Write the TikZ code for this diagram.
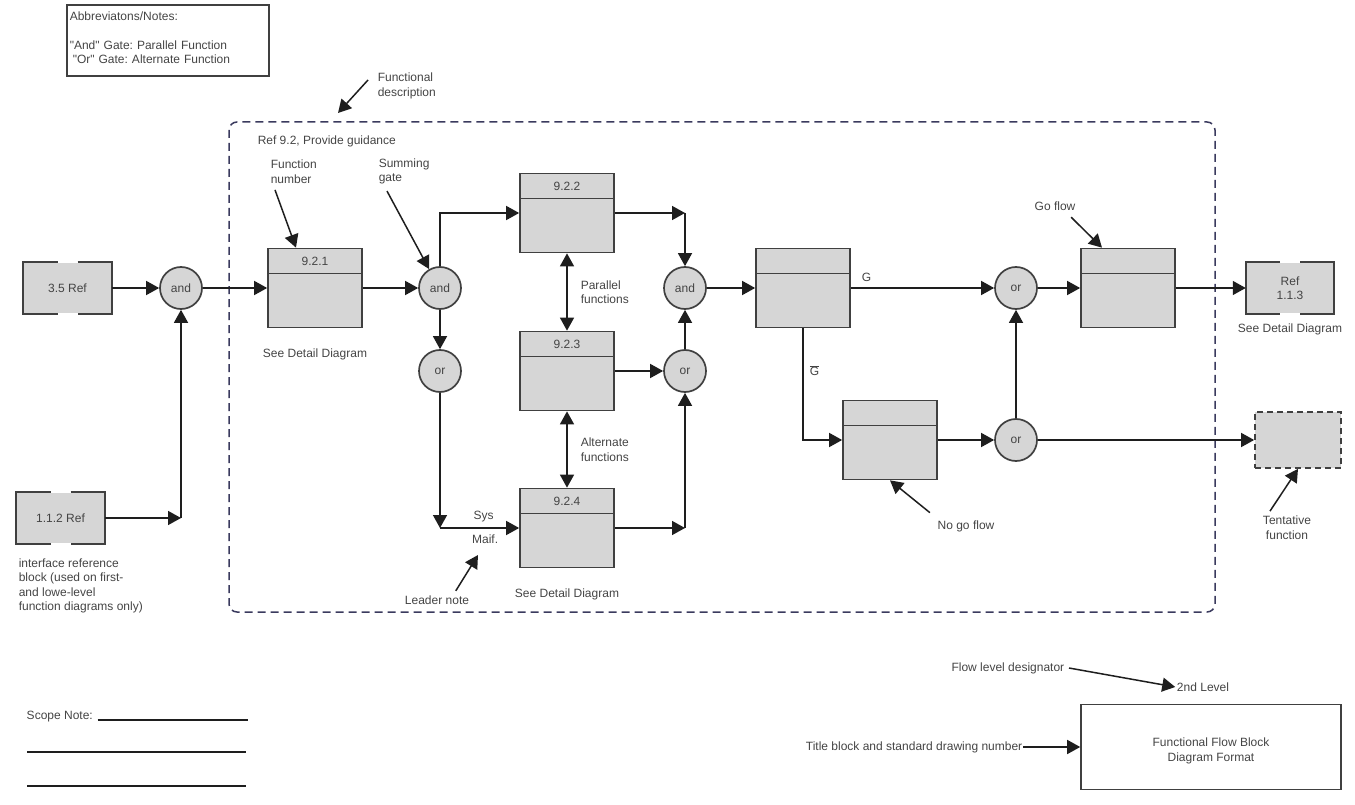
\documentclass[tikz,border=0pt]{standalone}
\usepackage{fontspec}
\setmainfont{Liberation Sans}
\usepackage{tikz}
\usetikzlibrary{arrows.meta, positioning}
\definecolor{boxgray}{HTML}{D6D6D6}
\definecolor{linegray}{HTML}{1E1E1E}
\definecolor{edgegray}{HTML}{404040}
\definecolor{textgray}{HTML}{444444}
\definecolor{framenavy}{HTML}{3A3A5E}
\frenchspacing

\begin{document}
\begin{tikzpicture}[x=1pt, y=1pt, font=\fontsize{12}{14.5}\selectfont, >={Triangle[length=13pt,width=14pt]},
    color=linegray, text=textgray, line width=1.5pt,
    func/.style={draw=edgegray, fill=boxgray, line width=1.7pt, minimum width=94pt, minimum height=79pt, inner sep=0pt,
        path picture={\draw[edgegray, line width=1.7pt] ([yshift=-25pt]path picture bounding box.north west) -- ([yshift=-25pt]path picture bounding box.north east);}},
    num/.style={anchor=center, yshift=-13.5pt},
    gate/.style={circle, draw=edgegray, fill=boxgray, line width=1.7pt, minimum size=42pt, inner sep=0pt},
    ref/.style={fill=boxgray, minimum width=87pt, minimum height=50pt, inner sep=0pt, align=center},
    note/.style={align=left, inner sep=1pt}]
    \useasboundingbox (0,0) rectangle (1355,-805);

    % notes and frame
    \node[draw=edgegray, line width=1.6pt, anchor=north west, minimum width=202pt, text width=196pt, align=left, inner xsep=2pt, inner ysep=0pt] (notes) at (66,-4)
        {\rule{0pt}{16pt}Abbreviatons/Notes:\\[14pt]\textquotedbl And\textquotedbl{} Gate: Parallel Function\\\hspace{3pt}\textquotedbl Or\textquotedbl{} Gate: Alternate Function\rule[-12pt]{0pt}{12pt}};
    \draw[framenavy, dash pattern=on 8pt off 5pt, rounded corners=8pt, line width=1.5pt] (229,-122) rectangle (1215,-612);
    \node[note, anchor=west] (fdesc) at (376,-86) {Functional\\description};
    \node[note, anchor=west] (guide) at (256,-141) {Ref 9.2, Provide guidance};
    \node[note, anchor=west] (fnum) at (269,-171.5) {Function\\number};
    \node[note, anchor=west] (sgate) at (377,-171.5) {Summing\\gate};

    % reference blocks
    \node[ref] (r35) at (67.5,-288) {3.5 Ref};
    \node[ref] (r112) at (60.5,-518) {1.1.2 Ref};
    \node[ref] (r113) at (1290,-288) {Ref\\1.1.3};
    \foreach \r in {r35,r112,r113} {
        \draw[edgegray, line width=1.7pt] ([xshift=-10pt]\r.north) -- (\r.north west) -- (\r.south west) -- ([xshift=-10pt]\r.south);
        \draw[edgegray, line width=1.7pt] ([xshift=10pt]\r.north) -- (\r.north east) -- (\r.south east) -- ([xshift=10pt]\r.south);
    }
    \node[ref, draw=edgegray, line width=1.7pt, dash pattern=on 6pt off 4pt, minimum width=86pt, minimum height=56pt] (tent) at (1298,-440) {};

    % function blocks
    \node[func, label={[num]north:9.2.1}] (f921) at (315,-288) {};
    \node[func, label={[num]north:9.2.2}] (f922) at (567,-213) {};
    \node[func, label={[num]north:9.2.3}] (f923) at (567,-371) {};
    \node[func, label={[num]north:9.2.4}] (f924) at (567,-528) {};
    \node[func] (fA) at (803,-288) {};
    \node[func] (fB) at (890,-440) {};
    \node[func] (fC) at (1128,-288) {};

    % gates
    \node[gate] (g1) at (181,-288) {and};
    \node[gate] (g2) at (440,-288) {and};
    \node[gate] (g3) at (440,-371) {or};
    \node[gate] (g4) at (685,-288) {and};
    \node[gate] (g5) at (685,-371) {or};
    \node[gate] (g6) at (1016,-288) {or};
    \node[gate] (g7) at (1016,-440) {or};

    \coordinate (j1) at (181,-518);
    \coordinate (c1) at (440,-528);
    \coordinate (c2) at (685,-213);
    \coordinate (c3) at (685,-528);

    % flow
    \draw[->] (r35) -- (g1);
    \draw[->] (r112) -- (j1);
    \draw[->] (j1) -- (g1);
    \draw[->] (g1) -- (f921);
    \draw[->] (f921) -- (g2);
    \draw[->] (g2) |- (f922);
    \draw[->] (g2) -- (g3);
    \draw[->] (g3) -- (c1);
    \draw[->] (c1) -- node[note, above=4pt, pos=0.55] (sys) {Sys} node[note, below=5pt, pos=0.57] (maif) {Maif.} (c1 -| f924.west);
    \draw[<->] (f922) -- node[note, right=12pt] (parf) {Parallel\\functions} (f923);
    \draw[<->] (f923) -- node[note, right=12pt] (altf) {Alternate\\functions} (f924);
    \draw[->] (f922) -- (c2);
    \draw[->] (c2) -- (g4);
    \draw[->] (f923) -- (g5);
    \draw[->] (f924) -- (c3);
    \draw[->] (c3) -- (g5);
    \draw[->] (g5) -- (g4);
    \draw[->] (g4) -- (fA);
    \draw[->] (fA) -- node[note, above=5pt, pos=0.11] (go) {G} (g6);
    \draw[->] (fA) |- node[note, right=5pt, pos=0.19] (nogoG) {$\overline{\mbox{G}}$} (fB);
    \draw[->] (fB) -- (g7);
    \draw[->] (g7) -- (g6);
    \draw[->] (g6) -- (fC);
    \draw[->] (fC) -- (r113);
    \draw[->] (g7) -- (tent);

    % captions
    \node[note, below=19pt of f921] (sdd1) {See Detail Diagram};
    \node[note, below=19pt of f924] (sdd2) {See Detail Diagram};
    \node[note, below=8pt of r113] (sdd3) {See Detail Diagram};
    \node[note, anchor=north west] (iface) at (17,-557) {interface reference\\block (used on first-\\and lowe-level\\function diagrams only)};
    \node[note] (goflow) at (1055,-206) {Go flow};
    \node[note] (nogo) at (966,-526) {No go flow};
    \node[note] (lnote) at (437,-600) {Leader note};
    \node[note, align=center] (tentf) at (1287,-527.5) {Tentative\\function};

    % leader arrows
    \coordinate (fdtip) at (338,-113);
    \coordinate (lntip) at (478,-555);
    \draw[->] ([xshift=-8pt,yshift=6pt]fdesc.west) -- (fdtip);
    \draw[->] ([xshift=6pt,yshift=-5pt]fnum.south west) -- ([xshift=-19pt]f921.north);
    \draw[->] ([xshift=10pt,yshift=-5pt]sgate.south west) -- (g2.120);
    \draw[->] ([xshift=-6pt,yshift=-5pt]goflow.south east) -- ([xshift=-26pt]fC.north);
    \draw[->] ([xshift=-6pt,yshift=6pt]nogo.north west) -- (fB.south);
    \draw[->] ([xshift=-15pt,yshift=3pt]lnote.north east) -- (lntip);
    \draw[->] ([xshift=-17pt,yshift=3pt]tentf.north) -- (tent.south);

    % scope note and title block
    \node[note, anchor=west] (scope) at (25,-717) {Scope Note:};
    \draw[line width=1.6pt] ([xshift=3pt]scope.base east) -- ++(150,0);
    \draw[line width=1.6pt] (27,-752) -- (246,-752);
    \draw[line width=1.6pt] (27,-786) -- (246,-786);
    \node[note, anchor=east] (fld) at (1066,-668) {Flow level designator};
    \node[note] (lvl) at (1203,-687) {2nd Level};
    \draw[->] ([xshift=3pt]fld.east) -- (lvl.west);
    \node[draw=edgegray, line width=1.6pt, minimum width=260pt, minimum height=85pt, align=center] (title) at (1211,-747) {\rule{0pt}{16pt}Functional Flow Block\\Diagram Format};
    \node[note, anchor=east, inner sep=0pt] (tbn) at (1023,-747) {Title block and standard drawing number};
    \draw[->] (tbn.east) -- (title.west);
\end{tikzpicture}
\end{document}
